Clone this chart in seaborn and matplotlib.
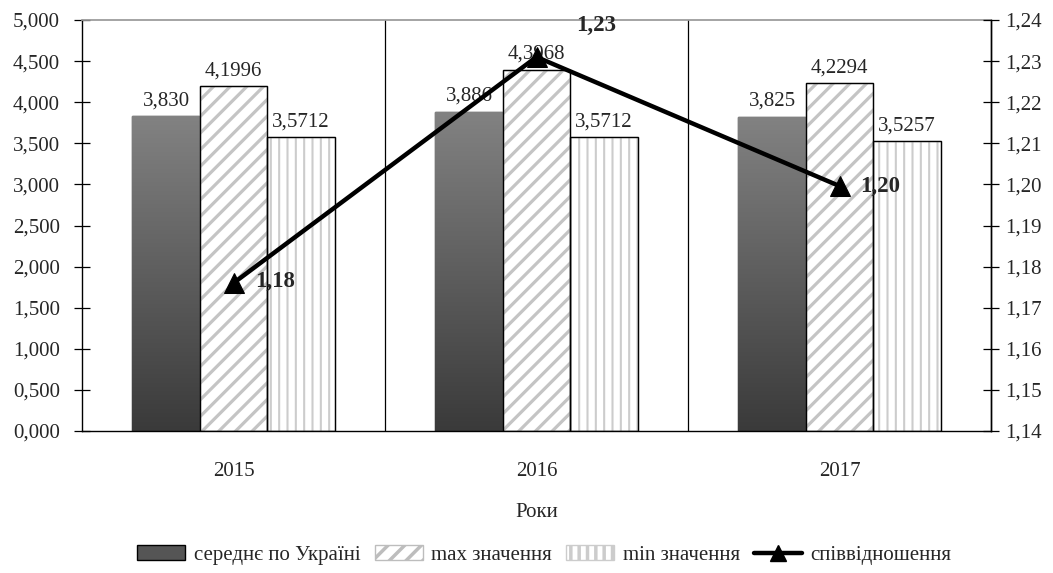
import numpy as np
import pandas as pd
import matplotlib
matplotlib.use('Agg')
import matplotlib.pyplot as plt
import seaborn as sns
from matplotlib.patches import Patch, Rectangle
from matplotlib.lines import Line2D
from matplotlib.ticker import FuncFormatter, MultipleLocator

# data
years = ['2015', '2016', '2017']
series_names = ['середнє по Україні', 'max значення', 'min значення']
mean_vals = [3.830, 3.886, 3.825]
max_vals = [4.1996, 4.3968, 4.2294]
min_vals = [3.5712, 3.5712, 3.5257]
ratio_vals = [1.176, 1.231, 1.1996]
ratio_name = 'співвідношення'

sns.set_theme(style='white')
plt.rcParams['font.family'] = ['Liberation Serif', 'DejaVu Serif']
plt.rcParams['hatch.linewidth'] = 2.5
FS = 15

df = pd.DataFrame({
    'year': years * 3,
    'series': [series_names[0]] * 3 + [series_names[1]] * 3 + [series_names[2]] * 3,
    'value': mean_vals + max_vals + min_vals,
})

fig = plt.figure(figsize=(10.53, 5.73), dpi=100)
ax = fig.add_axes([82 / 1053, 1 - 431 / 573, (991 - 82) / 1053, (431 - 20) / 573])

sns.barplot(data=df, x='year', y='value', hue='series', hue_order=series_names,
            width=0.667, gap=0, ax=ax, legend=False, edgecolor='black',
            linewidth=1.0, saturation=1)

# style the bars of each series
grad = np.linspace(0, 1, 256).reshape(-1, 1)
cmap = matplotlib.colors.LinearSegmentedColormap.from_list('g', ['#3a3a3a', '#828282'])
for i, cont in enumerate(ax.containers):
    for bar in cont:
        x0, y0 = bar.get_x(), bar.get_y()
        w, h = bar.get_width(), bar.get_height()
        if i == 0:
            bar.set_facecolor('#5a5a5a')
            im = ax.imshow(grad, extent=[x0, x0 + w, y0, y0 + h], origin='lower',
                           cmap=cmap, aspect='auto', zorder=bar.get_zorder())
            im.set_clip_path(bar)
        else:
            bar.set_facecolor('white')
            bar.set_edgecolor('#c4c4c4' if i == 1 else '#cccccc')
            bar.set_hatch('//' if i == 1 else '||')
            if hasattr(bar, 'set_hatch_linewidth'):
                bar.set_hatch_linewidth(2.3 if i == 1 else 1.5)
            ax.add_patch(Rectangle((x0, y0), w, h, fill=False, edgecolor='black',
                                   linewidth=1.0, zorder=bar.get_zorder() + 0.1))
ax.set_aspect('auto')
ax.set_xlim(-0.5, 2.5)
ax.set_ylim(0, 5)
ax.yaxis.set_major_locator(MultipleLocator(0.5))
ax.yaxis.set_major_formatter(FuncFormatter(lambda v, p: f'{v:.3f}'.replace('.', ',')))

label_sets = [
    [f'{v:.3f}'.replace('.', ',') for v in mean_vals],
    [f'{v:.4f}'.replace('.', ',') for v in max_vals],
    [f'{v:.4f}'.replace('.', ',') for v in min_vals],
]
for cont, labs in zip(ax.containers, label_sets):
    ax.bar_label(cont, labels=labs, padding=4, fontsize=FS)

# category separators
for xb in [0.5, 1.5]:
    ax.axvline(xb, color='black', linewidth=0.9, zorder=0.5)

ax.set_xticks([-0.5, 0.5, 1.5, 2.5], minor=True)
ax.tick_params(axis='x', which='major', length=0, pad=22, labelsize=FS)
ax.tick_params(axis='x', which='minor', direction='out', length=7, width=0.9, color='black')
ax.tick_params(axis='y', direction='inout', length=12, width=0.9, color='black',
               labelsize=FS, left=True, pad=10)
ax.set_xlabel('Роки', fontsize=FS, labelpad=16)
ax.set_ylabel('')

for side in ['left', 'bottom', 'right']:
    ax.spines[side].set_color('black')
    ax.spines[side].set_linewidth(1.0)
ax.spines['top'].set_color('#999999')

# ratio line on secondary axis
ax2 = ax.twinx()
sns.lineplot(x=np.arange(len(years)), y=ratio_vals, ax=ax2, color='black',
             linewidth=3.2, marker='^', markersize=14, markeredgecolor='black')
ax2.set_ylim(1.14, 1.24)
ax2.yaxis.set_major_locator(MultipleLocator(0.01))
ax2.yaxis.set_major_formatter(FuncFormatter(lambda v, p: f'{v:.2f}'.replace('.', ',')))
ax2.tick_params(axis='y', direction='inout', length=12, width=0.9, color='black',
                labelsize=FS, right=True, pad=4)
for side in ['left', 'bottom', 'top']:
    ax2.spines[side].set_visible(False)
ax2.spines['right'].set_color('black')
ax2.spines['right'].set_linewidth(1.0)
ax2.set_xlim(-0.5, 2.5)

offsets = [(30, 1), (43, 23), (29, 0)]
for xi, (v, off) in enumerate(zip(ratio_vals, offsets)):
    ax2.annotate(f'{v:.2f}'.replace('.', ','), (xi, v), xytext=off,
                 textcoords='offset points', ha='center', va='center',
                 fontsize=16.5, fontweight='bold')

handles = [
    Patch(facecolor='#555555', edgecolor='black', label=series_names[0]),
    Patch(facecolor='white', edgecolor='#bdbdbd', hatch='//', label=series_names[1]),
    Patch(facecolor='white', edgecolor='#cccccc', hatch='||', label=series_names[2]),
    Line2D([0], [0], color='black', linewidth=3.2, marker='^', markersize=12,
           label=ratio_name),
]
fig.legend(handles=handles, loc='center', bbox_to_anchor=(0.517, 0.031), ncol=4,
           frameon=False, fontsize=FS, handlelength=2.3, handletextpad=0.4,
           columnspacing=0.7, handleheight=0.7)

fig.savefig('out.png', dpi=100)
